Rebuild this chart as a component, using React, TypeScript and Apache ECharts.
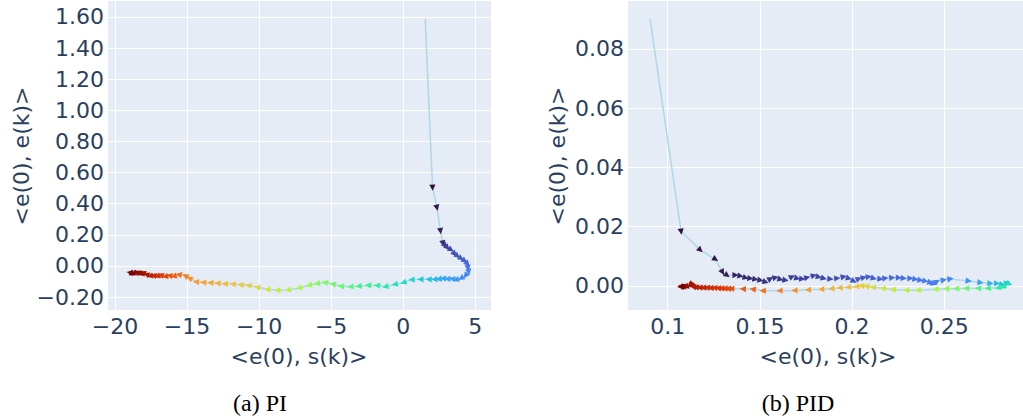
import React, { useEffect, useRef } from "react";
import * as echarts from "echarts";

// ---------- data ----------
// PI controller trajectory: <e(0), s(k)> vs <e(0), e(k)>
const piX = [1.53, 2.04, 2.34, 2.59, 2.75, 2.90, 3.05, 3.30, 3.55, 3.75, 4.00, 4.25, 4.45, 4.50, 4.55, 4.35, 4.05, 3.70, 3.43, 3.10, 2.80, 2.50, 2.20, 1.80, 1.23, 0.62, 0.05, -0.55, -1.20, -1.78, -2.40, -3.05, -3.63, -4.28, -4.85, -5.40, -5.95, -6.50, -7.20, -7.96, -8.70, -9.40, -10.10, -10.70, -11.25, -11.80, -12.35, -12.85, -13.35, -13.85, -14.35, -14.80, -15.10, -15.55, -15.90, -16.20, -16.50, -16.80, -17.05, -17.30, -17.55, -17.80, -18.05, -18.25, -18.45, -18.70, -18.95, -18.80];
const piY = [1.587, 0.506, 0.377, 0.227, 0.148, 0.135, 0.120, 0.105, 0.080, 0.065, 0.050, 0.035, 0.015, -0.010, -0.035, -0.060, -0.078, -0.088, -0.082, -0.083, -0.080, -0.084, -0.086, -0.086, -0.086, -0.088, -0.106, -0.118, -0.133, -0.125, -0.124, -0.130, -0.133, -0.130, -0.117, -0.106, -0.113, -0.124, -0.141, -0.154, -0.156, -0.150, -0.137, -0.126, -0.121, -0.116, -0.115, -0.111, -0.108, -0.106, -0.102, -0.080, -0.064, -0.056, -0.066, -0.062, -0.068, -0.058, -0.066, -0.060, -0.064, -0.055, -0.044, -0.050, -0.040, -0.046, -0.042, -0.050];
// colour value of each marker (0 = start, 1 = end)
const piC = [0, 0.00, 0.01, 0.02, 0.04, 0.05, 0.06, 0.07, 0.08, 0.09, 0.10, 0.11, 0.12, 0.14, 0.16, 0.17, 0.18, 0.19, 0.20, 0.21, 0.22, 0.235, 0.25, 0.265, 0.28, 0.30, 0.32, 0.335, 0.35, 0.365, 0.38, 0.395, 0.41, 0.425, 0.44, 0.455, 0.47, 0.485, 0.50, 0.515, 0.55, 0.57, 0.60, 0.62, 0.635, 0.65, 0.665, 0.68, 0.69, 0.70, 0.715, 0.73, 0.75, 0.77, 0.79, 0.81, 0.83, 0.85, 0.87, 0.89, 0.91, 0.93, 0.95, 0.96, 0.97, 0.98, 0.99, 1.0];

// PID controller trajectory
const pidX = [0.0904, 0.1072, 0.1175, 0.1257, 0.1296, 0.1320, 0.1365, 0.1392, 0.1420, 0.1446, 0.1473, 0.1500, 0.1528, 0.1555, 0.1582, 0.1609, 0.1636, 0.1672, 0.1700, 0.1727, 0.1754, 0.1790, 0.1817, 0.1844, 0.1880, 0.1917, 0.1952, 0.1980, 0.2007, 0.2034, 0.2061, 0.2088, 0.2115, 0.2151, 0.2178, 0.2215, 0.2251, 0.2278, 0.2314, 0.2341, 0.2368, 0.2395, 0.2422, 0.2440, 0.2459, 0.2495, 0.2531, 0.2630, 0.2694, 0.2748, 0.2784, 0.2811, 0.2838, 0.2850, 0.2820, 0.2793, 0.2739, 0.2685, 0.2622, 0.2567, 0.2513, 0.2455, 0.2359, 0.2296, 0.2223, 0.2169, 0.2115, 0.2079, 0.2052, 0.2025, 0.1980, 0.1935, 0.1890, 0.1835, 0.1763, 0.1690, 0.1609, 0.1518, 0.1464, 0.1410, 0.1347, 0.1329, 0.1311, 0.1293, 0.1275, 0.1255, 0.1235, 0.1215, 0.1195, 0.1175, 0.1155, 0.1140, 0.1130, 0.1120, 0.1100, 0.1085, 0.1070, 0.1090, 0.1075];
const pidY = [0.0901, 0.0185, 0.0122, 0.0091, 0.0048, 0.0037, 0.0037, 0.0034, 0.0028, 0.0026, 0.0023, 0.0020, 0.0014, 0.0024, 0.0028, 0.0023, 0.0020, 0.0031, 0.0026, 0.0024, 0.0028, 0.0035, 0.0031, 0.0026, 0.0024, 0.0026, 0.0031, 0.0026, 0.0017, 0.0024, 0.0028, 0.0031, 0.0026, 0.0024, 0.0026, 0.0028, 0.0028, 0.0026, 0.0026, 0.0023, 0.0020, 0.0017, 0.0012, 0.0008, 0.0015, 0.0020, 0.0024, 0.0017, 0.0012, 0.0009, 0.0009, 0.0005, 0.0011, 0.0008, -0.0003, -0.0006, -0.0008, -0.0008, -0.0008, -0.0009, -0.0009, -0.0011, -0.0014, -0.0014, -0.0012, -0.0008, -0.0004, -0.0001, 0.0001, -0.0002, -0.0004, -0.0006, -0.0009, -0.0011, -0.0013, -0.0015, -0.0016, -0.0016, -0.0011, -0.0010, -0.0009, -0.0009, -0.0008, -0.0008, -0.0007, -0.0006, -0.0007, -0.0005, -0.0006, -0.0005, -0.0004, -0.0003, 0.0009, 0.0002, -0.0002, -0.0001, -0.0002, -0.0003, -0.0001];
const pidC = [0, 0.0, 0.005, 0.01, 0.015, 0.02, 0.025, 0.028, 0.031, 0.034, 0.037, 0.04, 0.043, 0.046, 0.049, 0.052, 0.055, 0.058, 0.061, 0.064, 0.067, 0.07, 0.073, 0.076, 0.08, 0.084, 0.088, 0.092, 0.096, 0.10, 0.104, 0.108, 0.112, 0.116, 0.12, 0.124, 0.128, 0.132, 0.136, 0.14, 0.144, 0.148, 0.152, 0.156, 0.16, 0.165, 0.17, 0.19, 0.21, 0.23, 0.25, 0.27, 0.29, 0.31, 0.34, 0.37, 0.39, 0.41, 0.43, 0.45, 0.47, 0.50, 0.52, 0.54, 0.56, 0.575, 0.59, 0.61, 0.63, 0.645, 0.66, 0.67, 0.68, 0.70, 0.715, 0.73, 0.745, 0.77, 0.79, 0.80, 0.82, 0.83, 0.84, 0.85, 0.86, 0.87, 0.88, 0.89, 0.90, 0.91, 0.92, 0.93, 0.94, 0.95, 0.96, 0.97, 0.98, 0.99, 1.0];

const xTitle = "<e(0), s(k)>";
const yTitle = "<e(0), e(k)>";
const captions = ["(a) PI", "(b) PID"];

// Plotly "Turbo" colour scale
const TURBO = ["#30123b", "#4145ab", "#4675ed", "#39a2fc", "#1bcfd4", "#24eca6", "#61fc6c", "#a4fc3b", "#d1e834", "#f3c63a", "#fe9b2d", "#f36315", "#d93806", "#b11901", "#7a0403"];

const TEXT = "#2a3f5f";
const FONT = "DejaVu Sans";

function hexToRgb(h: string) {
  return [parseInt(h.slice(1, 3), 16), parseInt(h.slice(3, 5), 16), parseInt(h.slice(5, 7), 16)];
}
function turbo(t: number) {
  const v = Math.max(0, Math.min(1, t));
  const n = TURBO.length - 1;
  const f = v * n;
  const i = Math.min(Math.floor(f), n - 1);
  const u = f - i;
  const a = hexToRgb(TURBO[i]);
  const b = hexToRgb(TURBO[i + 1]);
  const c = a.map((av, k) => Math.round(av + (b[k] - av) * u));
  return `rgb(${c[0]},${c[1]},${c[2]})`;
}

function markerData(xs: number[], ys: number[], cs: number[]) {
  const out: number[][] = [];
  for (let i = 1; i < xs.length; i++) {
    out.push([xs[i], ys[i], xs[i - 1], ys[i - 1], cs[i]]);
  }
  return out;
}

function renderArrow(_params: any, api: any) {
  const p = api.coord([api.value(0), api.value(1)]);
  const q = api.coord([api.value(2), api.value(3)]);
  const a = Math.atan2(p[1] - q[1], p[0] - q[0]);
  const cx = Math.cos(a);
  const sy = Math.sin(a);
  const tip = [p[0] + 3.6 * cx, p[1] + 3.6 * sy];
  const bx = p[0] - 2.6 * cx;
  const by = p[1] - 2.6 * sy;
  const w = 3.1;
  const left = [bx - w * sy, by + w * cx];
  const right = [bx + w * sy, by - w * cx];
  return {
    type: "polygon",
    shape: { points: [tip, left, right] },
    style: { fill: turbo(api.value(4)) },
  };
}

const minus = (s: string) => s.replace("-", "\u2212");

function axisCommon() {
  return {
    axisLine: { show: false },
    axisTick: { show: false },
    splitLine: { show: true, lineStyle: { color: "#ffffff", width: 1 } },
  };
}
function labelStyle(margin: number, formatter: (v: number) => string) {
  return {
    fontSize: 22,
    fontFamily: FONT,
    color: TEXT,
    margin,
    showMinLabel: false,
    showMaxLabel: false,
    formatter,
  };
}

export default function App() {
  const ref = useRef<HTMLDivElement>(null);
  useEffect(() => {
    if (!ref.current) return;
    const chart = echarts.init(ref.current, undefined, { renderer: "svg" });
    const option: any = {
      animation: false,
      backgroundColor: "#ffffff",
      grid: [
        { left: 107, top: 0, width: 384, height: 310, show: true, backgroundColor: "#E5ECF6", borderWidth: 0 },
        { left: 627, top: 0, width: 396, height: 310, show: true, backgroundColor: "#E5ECF6", borderWidth: 0 },
      ],
      xAxis: [
        {
          type: "value", gridIndex: 0, min: -20.56, max: 6.1, splitNumber: 5,
          ...axisCommon(),
          axisLabel: labelStyle(5, (v) => minus(String(Math.round(v)))),
        },
        {
          type: "value", gridIndex: 1, min: 0.0779, max: 0.2927, splitNumber: 5,
          ...axisCommon(),
          axisLabel: labelStyle(5, (v) => String(+v.toFixed(2))),
        },
      ],
      yAxis: [
        {
          type: "value", gridIndex: 0, min: -0.283, max: 1.709, splitNumber: 10,
          ...axisCommon(),
          axisLabel: labelStyle(3, (v) => (Math.abs(v) < 1e-9 ? "0.00" : minus(v.toFixed(2)))),
        },
        {
          type: "value", gridIndex: 1, min: -0.0081, max: 0.0965, splitNumber: 5,
          ...axisCommon(),
          axisLabel: labelStyle(3, (v) => (Math.abs(v) < 1e-9 ? "0.00" : minus(v.toFixed(2)))),
        },
      ],
      series: [
        {
          type: "line", xAxisIndex: 0, yAxisIndex: 0, z: 2, silent: true,
          showSymbol: false, symbol: "none",
          lineStyle: { color: "#add8e6", width: 1.5 },
          data: piX.map((x, i) => [x, piY[i]]),
        },
        {
          type: "custom", xAxisIndex: 0, yAxisIndex: 0, z: 3, silent: true,
          dimensions: ["x", "y", "px", "py", "c"],
          encode: { x: 0, y: 1 },
          renderItem: renderArrow,
          data: markerData(piX, piY, piC),
        },
        {
          type: "line", xAxisIndex: 1, yAxisIndex: 1, z: 2, silent: true,
          showSymbol: false, symbol: "none",
          lineStyle: { color: "#add8e6", width: 1.5 },
          data: pidX.map((x, i) => [x, pidY[i]]),
        },
        {
          type: "custom", xAxisIndex: 1, yAxisIndex: 1, z: 3, silent: true,
          dimensions: ["x", "y", "px", "py", "c"],
          encode: { x: 0, y: 1 },
          renderItem: renderArrow,
          data: markerData(pidX, pidY, pidC),
        },
      ],
      graphic: [
        { type: "text", x: 299, y: 356, style: { text: xTitle, font: `22px "${FONT}"`, fill: TEXT, align: "center", verticalAlign: "middle" } },
        { type: "text", x: 828, y: 356, style: { text: xTitle, font: `22px "${FONT}"`, fill: TEXT, align: "center", verticalAlign: "middle" } },
        { type: "text", x: 21, y: 156, rotation: Math.PI / 2, style: { text: yTitle, font: `22px "${FONT}"`, fill: TEXT, align: "center", verticalAlign: "middle" } },
        { type: "text", x: 557, y: 156, rotation: Math.PI / 2, style: { text: yTitle, font: `22px "${FONT}"`, fill: TEXT, align: "center", verticalAlign: "middle" } },
        { type: "text", x: 260, y: 403, style: { text: captions[0], font: `24px "Liberation Serif"`, fill: "#000000", align: "center", verticalAlign: "middle" } },
        { type: "text", x: 798, y: 403, style: { text: captions[1], font: `24px "Liberation Serif"`, fill: "#000000", align: "center", verticalAlign: "middle" } },
      ],
    };
    chart.setOption(option);
    return () => chart.dispose();
  }, []);
  return (
    <div
      ref={ref}
      style={{ position: "absolute", left: 0, top: 0, width: 1023, height: 416 }}
    />
  );
}
